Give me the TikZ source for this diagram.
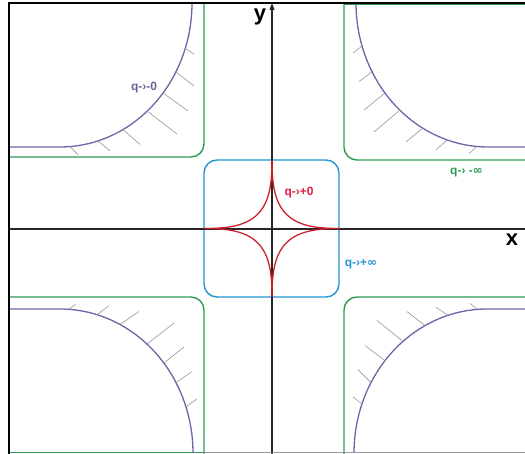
\documentclass[tikz,border=0pt]{standalone}
\usepackage{fontspec}
\setmainfont{Liberation Sans}
\newfontfamily\symfont{DejaVu Sans}
\usetikzlibrary{arrows.meta}
\definecolor{cgreen}{RGB}{45,155,85}
\definecolor{cblue}{RGB}{35,150,210}
\definecolor{cpurple}{RGB}{110,100,170}
\definecolor{cpurplet}{RGB}{105,100,150}
\definecolor{cred}{RGB}{200,35,40}
\definecolor{credt}{RGB}{225,30,65}
\definecolor{chatch}{RGB}{150,150,150}
\newcommand{\infsym}{{\symfont ∞}}
\begin{document}
\begin{tikzpicture}[x=1pt,y=-1pt,
  greenline/.style={draw=cgreen,line width=1.4pt,rounded corners=13pt},
  bluebox/.style={draw=cblue,line width=1.4pt,rounded corners=13pt},
  limitcurve/.style={draw=cpurple,line width=1.3pt},
  hatchline/.style={draw=chatch,line width=0.6pt},
  starcurve/.style={draw=cred,line width=1.3pt},
  axisline/.style={draw=black!85,line width=1.1pt},
  lbl/.style={font=\bfseries\fontsize{12}{14}\selectfont,inner sep=0pt},
  axlbl/.style={font=\bfseries\fontsize{22}{24}\selectfont,inner sep=0pt}]
\useasboundingbox (0,0) rectangle (525,454);
\fill[white] (0,0) rectangle (525,454);
\begin{scope}
\clip (9,3) rectangle (525,454);
% green regions
\draw[greenline] (0,157) -- (204,157) -- (204,-10);
\draw[greenline] (344,-10) -- (344,160) -- (540,160);
\draw[greenline] (0,297) -- (204,297) -- (204,470);
\draw[greenline] (344,470) -- (344,297) -- (540,297);
\draw[draw=cgreen,line width=1pt] (344,4.5) -- (525,4.5);
\draw[draw=cgreen,line width=1pt] (9,452) -- (204,452);
% purple limit curves
\draw[limitcurve] plot[domain=0:90,samples=60,smooth] ({60+132*cos(\x)},{3+144*sin(\x)}) -- (0,147);
\draw[limitcurve] plot[domain=0:90,samples=60,smooth] ({488-132*cos(\x)},{3+144*sin(\x)}) -- (530,147);
\draw[limitcurve] plot[domain=0:90,samples=60,smooth] ({60+133*cos(\x)},{453-144*sin(\x)}) -- (0,309);
\draw[limitcurve] plot[domain=0:90,samples=60,smooth] ({487-133*cos(\x)},{453-144*sin(\x)}) -- (530,309);
% hatches top-left (point on curve / offset outwards)
\foreach \ax/\ay/\dx/\dy in {185/48/9/6, 176/72/18/14, 163/93/25/18, 147/111/30/23, 123/129.5/17/15, 98/141/12/10, 70/146.6/8/8}
  \draw[hatchline] (\ax,\ay) -- ++(\dx,\dy);
% hatches top-right
\foreach \ax/\ay/\dx/\dy in {362/46/-9/7, 372/71.7/-13/10, 385/93/-21/17, 400/110/-26/22, 423/128/-17/14, 447/140/-11/10, 477/146.5/-8/7}
  \draw[hatchline] (\ax,\ay) -- ++(\dx,\dy);
% hatches bottom-left
\foreach \ax/\ay/\dx/\dy in {68/309.3/8/-5, 97/314.7/12/-9, 120/324.5/19/-13, 147/344/27/-21, 164/363/20/-16, 176/382.6/16/-11, 186/406.8/11/-8}
  \draw[hatchline] (\ax,\ay) -- ++(\dx,\dy);
% hatches bottom-right
\foreach \ax/\ay/\dx/\dy in {362/404/-9/-7, 371/382.6/-13/-13, 385/360.6/-20/-15, 403/341.4/-26/-21, 425/325.6/-18/-14, 448/315.3/-12/-8, 477/309.4/-7/-6}
  \draw[hatchline] (\ax,\ay) -- ++(\dx,\dy);
\end{scope}
% blue box
\draw[bluebox] (204,160) rectangle (339,297);
% axes
\coordinate (xl) at (9,229);
\coordinate (xr) at (525,229);
\coordinate (yb) at (272,454);
\coordinate (yt) at (272,3);
\draw[axisline] (xl) -- (xr);
\draw[axisline,-{Triangle[length=7pt,width=5pt]}] (yb) -- (yt);
% red star
\foreach \sx/\sy in {1/1,-1/1,1/-1,-1/-1}
  \draw[starcurve] plot[domain=0:90,samples=100,smooth]
   ({272+\sx*68*cos(\x)*cos(\x)*cos(\x)*cos(\x)*sqrt(abs(cos(\x)))},
    {228.5+\sy*68.5*sin(\x)*sin(\x)*sin(\x)*sin(\x)*sqrt(abs(sin(\x)))});
% frame
\draw[black,line width=1.6pt] (9,454) -- (9,3) -- (525,3);
\draw[black!40,line width=1pt] (204,452.5) -- (525,452.5);
% labels
\node[lbl,text=cpurplet] (l1) at (144,88) {q-›-0};
\node[lbl,text=cgreen] (l2) at (466.5,173) {q-› -\infsym};
\node[lbl,text=credt] (l3) at (299,193) {q-›+0};
\node[lbl,text=cblue] (l4) at (361,264) {q-›+\infsym};
\node[axlbl] (ylab) at (260,17) {y};
\node[axlbl] (xlab) at (512,240) {x};
\end{tikzpicture}
\end{document}
